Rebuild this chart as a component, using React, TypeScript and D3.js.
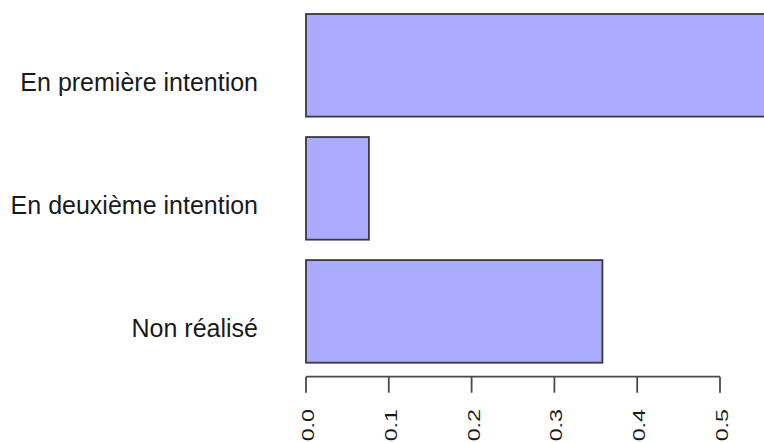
import React from "react";
import * as d3 from "d3";

const categories = ["En première intention", "En deuxième intention", "Non réalisé"];
const values = [0.566, 0.076, 0.358];
const tickValues = [0, 0.1, 0.2, 0.3, 0.4, 0.5];

const W = 764;
const H = 443;

export default function App() {
  const x = d3.scaleLinear().domain([0, 0.5]).range([306, 720]);
  const y = d3
    .scaleBand<string>()
    .domain(categories)
    .range([14, 362.7])
    .paddingInner(0.166)
    .paddingOuter(0);
  const axisY = 376.7;
  const tickLen = 16;
  const font = "'Liberation Sans', Arial, Helvetica, sans-serif";

  return (
    <svg
      width={W}
      height={H}
      viewBox={`0 0 ${W} ${H}`}
      style={{ position: "absolute", left: 0, top: 0, background: "#fff" }}
    >
      {categories.map((c, i) => (
        <rect
          key={c}
          x={x(0)}
          y={y(c)!}
          width={x(values[i]) - x(0)}
          height={y.bandwidth()}
          fill="#AAAAFF"
          stroke="#3a3a3a"
          strokeWidth={1.8}
        />
      ))}
      {categories.map((c) => (
        <text
          key={c}
          x={258}
          y={y(c)! + y.bandwidth() / 2 + 26}
          textAnchor="end"
          fontFamily={font}
          fontSize={25}
          fill="#1a1a1a"
        >
          {c}
        </text>
      ))}
      <line
        x1={x(tickValues[0])}
        x2={x(tickValues[tickValues.length - 1])}
        y1={axisY}
        y2={axisY}
        stroke="#4a4a4a"
        strokeWidth={1.8}
      />
      {tickValues.map((t) => (
        <g key={t}>
          <line
            x1={x(t)}
            x2={x(t)}
            y1={axisY}
            y2={axisY + tickLen}
            stroke="#4a4a4a"
            strokeWidth={1.8}
          />
          <text
            transform={`translate(${x(t)},${409}) rotate(-90) scale(1.37,1)`}
            textAnchor="end"
            dy="0.47em"
            fontFamily={font}
            fontSize={17}
            fill="#1a1a1a"
          >
            {t.toFixed(1)}
          </text>
        </g>
      ))}
    </svg>
  );
}
